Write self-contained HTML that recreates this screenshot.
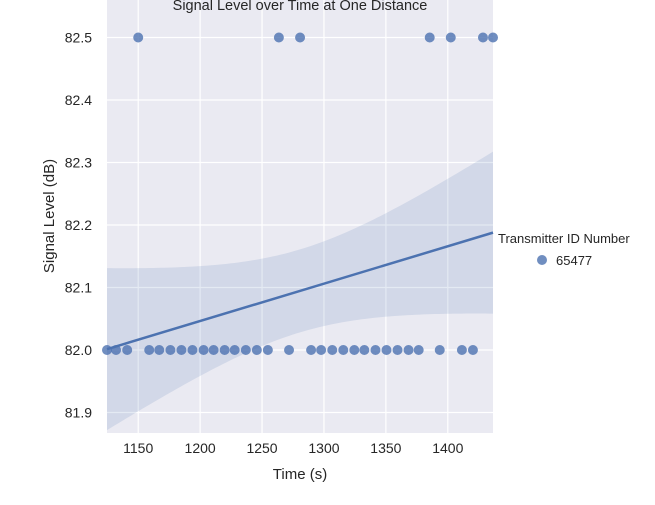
<!DOCTYPE html>
<html><head><meta charset="utf-8"><style>
body{margin:0;background:#fff;font-family:"Liberation Sans","DejaVu Sans",sans-serif}
svg text{font-family:"Liberation Sans","DejaVu Sans",sans-serif;fill:#262626}
</style></head><body>
<svg id="c" width="655" height="500" xmlns="http://www.w3.org/2000/svg">
</svg>
<script>
const times=[1124.8,1132.1,1141.1,1158.9,1167,1176,1184.9,1193.8,1202.8,1210.9,1219.8,1227.9,1236.9,1245.8,1254.7,1271.8,1289.6,1297.7,1306.7,1315.6,1324.5,1332.6,1341.6,1350.5,1359.4,1368.3,1376.5,1393.5,1411.4,1420.3,1150,1263.6,1280.7,1385.4,1402.4,1428.4,1436.5];
const levels=[82,82,82,82,82,82,82,82,82,82,82,82,82,82,82,82,82,82,82,82,82,82,82,82,82,82,82,82,82,82,82.5,82.5,82.5,82.5,82.5,82.5,82.5];
const xTicks=[1150,1200,1250,1300,1350,1400];
const yTicks=[81.9,82.0,82.1,82.2,82.3,82.4,82.5];
const legendLabel="65477";
const NS="http://www.w3.org/2000/svg",svg=document.getElementById('c');
const L=107,R=493,T=0,B=433;
const xmin=Math.min(...times),xmax=Math.max(...times);
const X=v=>L+(v-xmin)/(xmax-xmin)*(R-L);
const Y=v=>350-(v-82)*625;
function mk(t,a,p){const e=document.createElementNS(NS,t);for(const k in a)e.setAttribute(k,a[k]);(p||svg).appendChild(e);return e;}
const bg=mk('rect',{x:L,y:T,width:R-L,height:B-T,fill:'#eaeaf2'});


xTicks.forEach(v=>{
 const g=mk('line',{x1:X(v),x2:X(v),y1:T,y2:B,stroke:'#fff','stroke-width':1.2});
 
 
 const t=mk('text',{x:X(v),y:B+20,'text-anchor':'middle','font-size':14});t.textContent=v;
 
 
});
yTicks.forEach(v=>{
 const g=mk('line',{x1:L,x2:R,y1:Y(v),y2:Y(v),stroke:'#fff','stroke-width':1.2});
 
 
 const t=mk('text',{x:L-15,y:Y(v)+5,'text-anchor':'end','font-size':14});t.textContent=v.toFixed(1);
 
 
});
const n=times.length,mx=times.reduce((a,b)=>a+b)/n,my=levels.reduce((a,b)=>a+b)/n;
let sxx=0,sxy=0;times.forEach((t,i)=>{sxx+=(t-mx)**2;sxy+=(t-mx)*(levels[i]-my);});
const slope=sxy/sxx,ic=my-slope*mx;
let sse=0;times.forEach((t,i)=>{sse+=(levels[i]-(ic+slope*t))**2;});
const s=Math.sqrt(sse/(n-2));
const up=[],lo=[];
for(let k=0;k<=100;k++){const t=xmin+(xmax-xmin)*k/100,f=ic+slope*t,h=2.03*s*Math.sqrt(1/n+(t-mx)**2/sxx)*1.03;
 up.push(X(t)+','+Y(f+h));lo.unshift(X(t)+','+Y(f-h));}
const band=mk('polygon',{points:up.concat(lo).join(' '),fill:'#4c72b0','fill-opacity':0.15});


times.forEach((t,i)=>{
 const c=mk('circle',{cx:X(t),cy:Y(levels[i]),r:5,fill:'#4c72b0','fill-opacity':0.8});
 
 
});
const rl=mk('line',{x1:X(xmin),y1:Y(ic+slope*xmin),x2:X(xmax),y2:Y(ic+slope*xmax),stroke:'#4c72b0','stroke-width':2.5});


const ttl=mk('rect',{x:0,y:0,width:655,height:0,fill:'none'});
const title=mk('text',{x:300,y:10,'text-anchor':'middle','font-size':14.5});title.textContent='Signal Level over Time at One Distance';


const xt=mk('text',{x:300,y:479,'text-anchor':'middle','font-size':15});xt.textContent='Time (s)';


const yt=mk('text',{x:54,y:216,'text-anchor':'middle','font-size':15,transform:'rotate(-90 54 216)'});yt.textContent='Signal Level (dB)';


const lt=mk('text',{x:498,y:243,'font-size':13});lt.textContent='Transmitter ID Number';


const lm=mk('circle',{cx:542,cy:260,r:5,fill:'#4c72b0','fill-opacity':0.8});


const ll=mk('text',{x:556,y:265,'font-size':13});ll.textContent=legendLabel;


</script>
</body></html>
